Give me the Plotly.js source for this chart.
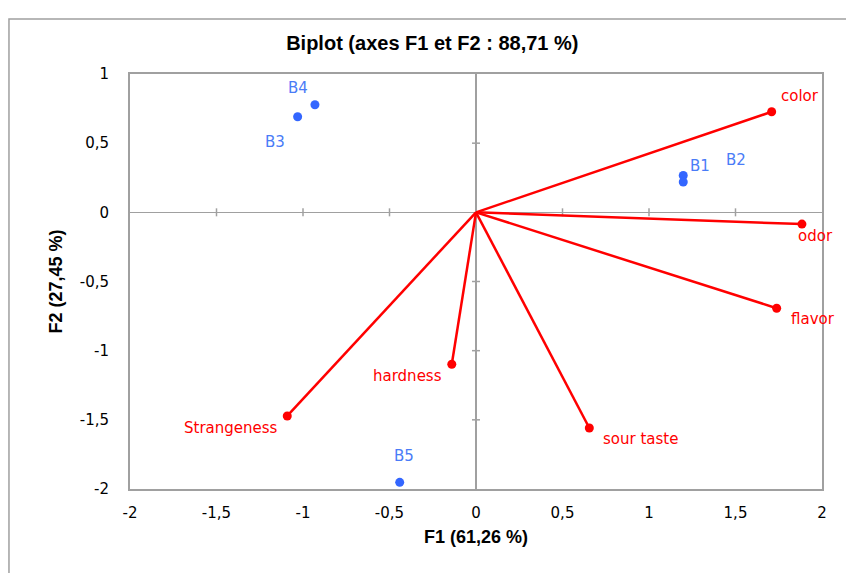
<!DOCTYPE html>
<html><head><meta charset="utf-8">
<script src="https://cdn.plot.ly/plotly-3.0.1.min.js"></script>
<style>html,body{margin:0;padding:0;background:#fff}#chart{width:846px;height:573px}</style>
</head><body><div id="chart"></div>
<script>
// Observations (blue points)
const obsNames = ['B1', 'B2', 'B3', 'B4', 'B5'];
const obsF1 = [1.198, 1.198, -1.031, -0.931, -0.441];
const obsF2 = [0.266, 0.219, 0.691, 0.778, -1.952];
// Variables (red vectors)
const varNames = ['color', 'odor', 'flavor', 'sour taste', 'hardness', 'Strangeness'];
const varF1 = [1.709, 1.884, 1.738, 0.655, -0.140, -1.091];
const varF2 = [0.727, -0.085, -0.693, -1.559, -1.098, -1.472];
// Axis ticks
const xTicks = [-2, -1.5, -1, -0.5, 0, 0.5, 1, 1.5, 2];
const xTickText = ['-2', '-1,5', '-1', '-0,5', '0', '0,5', '1', '1,5', '2'];
const yTicks = [-2, -1.5, -1, -0.5, 0, 0.5, 1];
const yTickText = ['-2', '-1,5', '-1', '-0,5', '0', '0,5', '1'];

// label offsets in pixels (style only)
const obsLabelShift = [[17, 10], [53, 22], [-23, -25], [-17, 17], [4, 26]];
const varLabelShift = [[28, 16], [14, -12], [36, -11], [51, -11], [-44, -12], [-56, -12]];

const RED = '#ff0000';
const BLUE = '#3366ff';
const BLUE_TXT = '#4a7cf7';
const GRAY = '#a0a0a0';
const FONT = 'DejaVu Sans, Verdana, sans-serif';
const TFONT = 'Liberation Sans, Arial, sans-serif';

const vx = [], vy = [];
varF1.forEach((v, i) => { vx.push(0, v, null); vy.push(0, varF2[i], null); });

const traces = [
  { x: vx, y: vy, mode: 'lines', line: { color: RED, width: 2.5 }, hoverinfo: 'skip', showlegend: false },
  { x: varF1, y: varF2, text: varNames, mode: 'markers', marker: { color: RED, size: 9 }, showlegend: false },
  { x: obsF1, y: obsF2, text: obsNames, mode: 'markers', marker: { color: BLUE, size: 9 }, showlegend: false }
];

const annotations = [];
obsNames.forEach((n, i) => annotations.push({
  x: obsF1[i], y: obsF2[i], text: n, showarrow: false,
  xshift: obsLabelShift[i][0], yshift: obsLabelShift[i][1],
  font: { family: FONT, size: 15, color: BLUE_TXT }
}));
varNames.forEach((n, i) => annotations.push({
  x: varF1[i], y: varF2[i], text: n, showarrow: false,
  xshift: varLabelShift[i][0], yshift: varLabelShift[i][1],
  font: { family: FONT, size: 15, color: RED }
}));

const shapes = [];
xTicks.filter(t => t !== 0 && Math.abs(t) !== 2).forEach(t => shapes.push({
  type: 'line', xref: 'x', yref: 'y', x0: t, x1: t, ysizemode: 'pixel', yanchor: 0, y0: -4, y1: 4,
  line: { color: GRAY, width: 1.5 }, layer: 'below'
}));
yTicks.filter(t => t !== 0 && t !== -2 && t !== 1).forEach(t => shapes.push({
  type: 'line', xref: 'x', yref: 'y', y0: t, y1: t, xsizemode: 'pixel', xanchor: 0, x0: -4, x1: 4,
  line: { color: GRAY, width: 1.5 }, layer: 'below'
}));
// outer chart frame
shapes.push({
  type: 'rect', xref: 'paper', yref: 'paper', x0: -0.1749, x1: 1.2, y0: -0.3, y1: 1.1325,
  line: { color: GRAY, width: 1.5 }, fillcolor: 'rgba(0,0,0,0)', layer: 'below'
});

const layout = {
  width: 846, height: 573,
  margin: { l: 130, r: 24, t: 74, b: 84 },
  paper_bgcolor: '#fff', plot_bgcolor: '#fff',
  title: {
    text: '<b>Biplot (axes F1 et F2 : 88,71 %)</b>',
    font: { family: TFONT, size: 20, color: '#000' },
    x: 0.511, xanchor: 'center', xref: 'container', y: 1 - 43 / 573, yanchor: 'middle', yref: 'container'
  },
  xaxis: {
    range: [-2, 2], tickvals: xTicks, ticktext: xTickText, ticks: '', showgrid: false,
    zeroline: true, zerolinecolor: GRAY, zerolinewidth: 1.5,
    showline: true, mirror: true, linecolor: GRAY, linewidth: 2,
    tickfont: { family: FONT, size: 15, color: '#000' }, ticklabelstandoff: 9,
    title: { text: '<b>F1 (61,26 %)</b>', font: { family: TFONT, size: 18, color: '#000' }, standoff: 9 },
    fixedrange: true
  },
  yaxis: {
    range: [-2, 1], tickvals: yTicks, ticktext: yTickText, ticks: '', showgrid: false,
    zeroline: true, zerolinecolor: GRAY, zerolinewidth: 1.5,
    showline: true, mirror: true, linecolor: GRAY, linewidth: 2,
    tickfont: { family: FONT, size: 15, color: '#000' }, ticklabelstandoff: 16,
    title: { text: '<b>F2 (27,45 %)</b>', font: { family: TFONT, size: 18, color: '#000' }, standoff: 12 },
    fixedrange: true
  },
  annotations: annotations,
  shapes: shapes,
  showlegend: false
};

Plotly.newPlot('chart', traces, layout, { staticPlot: true, displayModeBar: false });
</script>
</body></html>
